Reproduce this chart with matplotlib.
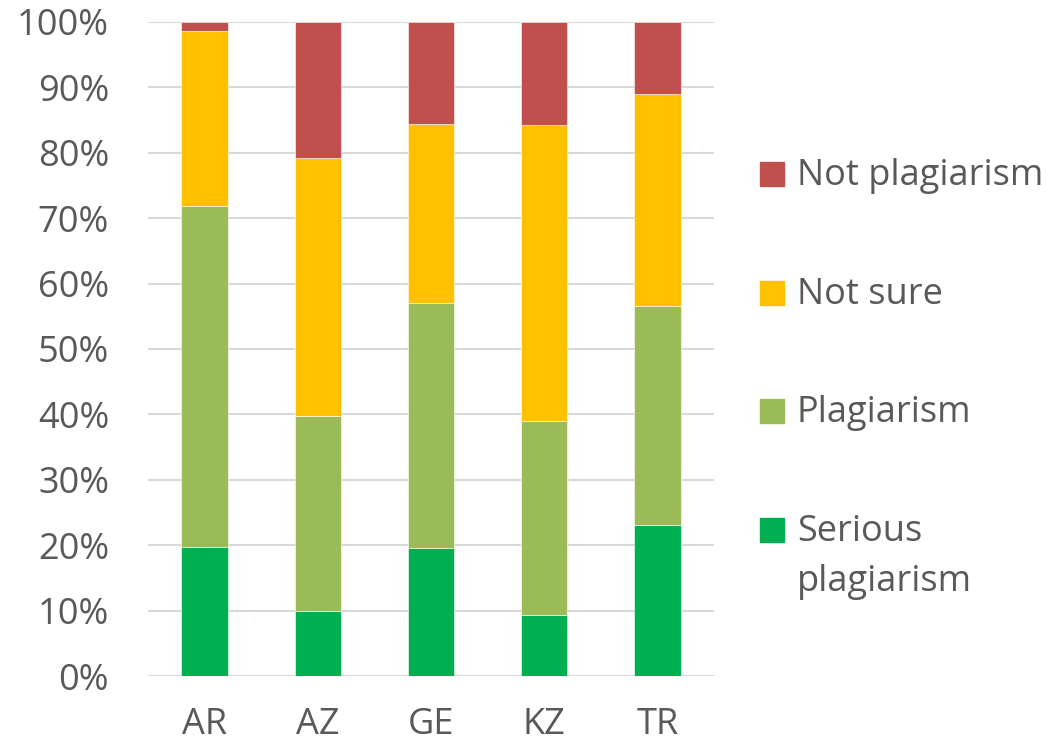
import matplotlib
matplotlib.use("Agg")
import matplotlib.pyplot as plt
from matplotlib.patches import Rectangle
from matplotlib.ticker import PercentFormatter
import numpy as np

plt.rcParams.update({
    "font.family": ["Open Sans", "DejaVu Sans"],
})

COUNTRIES = ["AR", "AZ", "GE", "KZ", "TR"]
SERIOUS = [19.7, 10.0, 19.5, 9.3, 23.1]
PLAGIARISM = [52.1, 29.8, 37.6, 29.7, 33.5]
NOT_SURE = [26.8, 39.4, 27.3, 45.3, 32.4]
NOT_PLAG = [1.4, 20.8, 15.6, 15.7, 11.0]

SERIES = [SERIOUS, PLAGIARISM, NOT_SURE, NOT_PLAG]
LABELS = ["Serious\nplagiarism", "Plagiarism", "Not sure", "Not plagiarism"]
COLORS = ["#00B050", "#9BBB59", "#FFC000", "#C0504D"]
TEXT = "#595959"

W, H = 1053, 749
fig = plt.figure(figsize=(W / 100, H / 100), dpi=100)
ax = fig.add_axes([148 / W, (H - 676) / H, 566 / W, 654 / H])

x = np.arange(len(COUNTRIES))
bottom = np.zeros(len(COUNTRIES))
for vals, col in zip(SERIES, COLORS):
    ax.bar(x, vals, width=0.41, bottom=bottom, color=col,
           edgecolor="white", linewidth=0.4, zorder=3)
    bottom += np.array(vals)

ax.set_xlim(-0.5, len(COUNTRIES) - 0.5)
ax.set_ylim(0, 100)
ax.set_yticks(np.arange(0, 101, 10))
ax.yaxis.set_major_formatter(PercentFormatter(decimals=0))
ax.set_xticks(x)
ax.set_xticklabels(COUNTRIES)
ax.tick_params(length=0, labelsize=26, colors=TEXT)
ax.tick_params(axis="y", pad=28)
ax.tick_params(axis="x", pad=22)
ax.grid(axis="y", color="#D9D9D9", lw=1.5, zorder=0)
for s in ax.spines.values():
    s.set_visible(False)

# legend drawn by hand so the square sits on the first line of the label
baselines = [541, 422, 304, 185]
for lab, col, yb in zip(LABELS, COLORS, baselines):
    fig.add_artist(Rectangle((760 / W, (H - yb - 1) / H), 24 / W, 24 / H,
                             transform=fig.transFigure, color=col))
    lines = lab.split("\n")
    for k, line in enumerate(lines):
        fig.text(797 / W, (H - yb - 50 * k) / H, line, fontsize=26,
                 color=TEXT, va="baseline", ha="left")

fig.savefig("out.png", dpi=100)
